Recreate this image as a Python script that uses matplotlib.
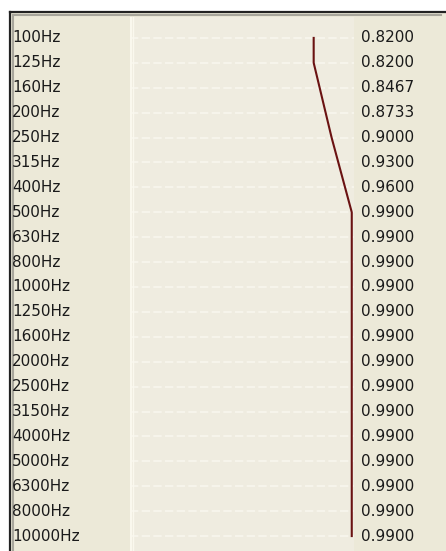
import matplotlib.pyplot as plt
from matplotlib.transforms import blended_transform_factory

# Data
bands = ['100Hz', '125Hz', '160Hz', '200Hz', '250Hz', '315Hz', '400Hz',
         '500Hz', '630Hz', '800Hz', '1000Hz', '1250Hz', '1600Hz', '2000Hz',
         '2500Hz', '3150Hz', '4000Hz', '5000Hz', '6300Hz', '8000Hz', '10000Hz']
coeffs = [0.8200, 0.8200, 0.8467, 0.8733, 0.9000, 0.9300, 0.9600,
          0.9900, 0.9900, 0.9900, 0.9900, 0.9900, 0.9900, 0.9900,
          0.9900, 0.9900, 0.9900, 0.9900, 0.9900, 0.9900, 0.9900]

W, H = 446, 551
fig = plt.figure(figsize=(W / 100, H / 100), dpi=100)
fig.patch.set_facecolor('white')


def px_rect(x0, y0, x1, y1):
    # pixel box (top-left origin) -> figure fraction rect
    return [x0 / W, (H - y1) / H, (x1 - x0) / W, (y1 - y0) / H]


# outer panel
box = fig.add_axes(px_rect(10, 12, 450, 555))
box.set_facecolor('#ECE9D8')
box.set_xticks([])
box.set_yticks([])
for s in ['right', 'bottom']:
    box.spines[s].set_visible(False)
box.spines['top'].set_linewidth(1.6)
box.spines['left'].set_linewidth(1.6)
box.spines['top'].set_color('#222222')
box.spines['left'].set_color('#222222')

# inner grey frame
inner = fig.add_axes(px_rect(13, 15, 441, 555))
inner.patch.set_alpha(0)
inner.set_xticks([])
inner.set_yticks([])
for s in ['right', 'bottom']:
    inner.spines[s].set_visible(False)
inner.spines['top'].set_color('#A8A69C')
inner.spines['left'].set_color('#A8A69C')
inner.spines['top'].set_linewidth(1.5)
inner.spines['left'].set_linewidth(1.5)

# plot area (0..1 across)
ax = fig.add_axes(px_rect(130, 17, 354, 551))
ax.set_facecolor('#EFECE0')
rows = list(range(len(bands)))
ax.set_xlim(0, 1)
ax.set_ylim(len(bands) - 1 + 0.6, -0.84)
for r in rows:
    ax.axhline(r, color='#F8F6EE', lw=1.2, ls=(0, (5, 2)), zorder=1)
ax.plot(coeffs, rows, color='#6A1212', lw=1.5, zorder=3)
ax.set_xticks([])
ax.set_yticks([])
for s in ax.spines.values():
    s.set_visible(False)
ax.axvline(0.003, color='#FAF8EE', lw=1.5)
ax.axvline(0.012, color='#FAF8EE', lw=1.0)

trans = blended_transform_factory(fig.transFigure, ax.transData)
for r, name, v in zip(rows, bands, coeffs):
    fig.text(12 / W, 0, name, transform=trans, ha='left', va='center',
             fontsize=11, color='#1A1A1A')
    fig.texts[-1].set_position((12 / W, r))
    fig.text(361 / W, 0, '%.4f' % v, transform=trans, ha='left', va='center',
             fontsize=11, color='#1A1A1A')
    fig.texts[-1].set_position((361 / W, r))

fig.savefig('out.png', dpi=100)
